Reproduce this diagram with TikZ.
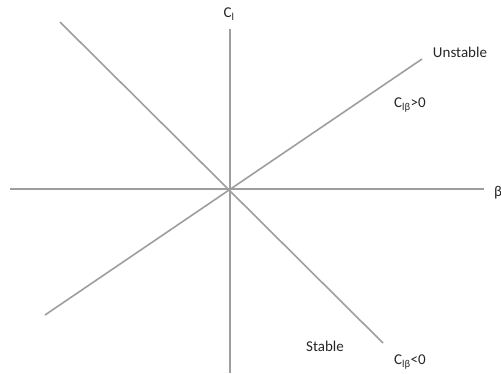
\documentclass[tikz,border=0pt]{standalone}
\usepackage{fontspec}
\setmainfont{Carlito}
\begin{document}
\begin{tikzpicture}[x=1pt, y=-1pt,
        axis/.style={draw=black!38, line width=1.6pt},
        lbl/.style={text=black!85, inner sep=0pt, font=\fontsize{15}{18}\selectfont}]
        \useasboundingbox (0,0) rectangle (501,373);

        \coordinate (O) at (230,189);
        \coordinate (Vtop) at (230,29);
        \coordinate (Vbot) at (230,373);
        \coordinate (Hleft) at (10,189);
        \coordinate (Hright) at (484,189);
        \coordinate (Stop) at (60,22);
        \coordinate (Sbot) at (383,343);
        \coordinate (Ubot) at (45,315);
        \coordinate (Utop) at (422,59);

        \draw[axis] (Vtop) -- (Vbot);
        \draw[axis] (Hleft) -- (Hright);
        \draw[axis] (Stop) -- (Sbot);
        \draw[axis] (Ubot) -- (Utop);

        \node[lbl] (Cl) at (229,14) {C\textsubscript{l}};
        \node[lbl, anchor=west] (beta) at (494,193) {β};
        \node[lbl] (unstable) at (460,52) {Unstable};
        \node[lbl] (pos) at (410,105) {C\textsubscript{lβ}>0};
        \node[lbl] (stable) at (325,346) {Stable};
        \node[lbl] (neg) at (410,362) {C\textsubscript{lβ}<0};
    \end{tikzpicture}
\end{document}
